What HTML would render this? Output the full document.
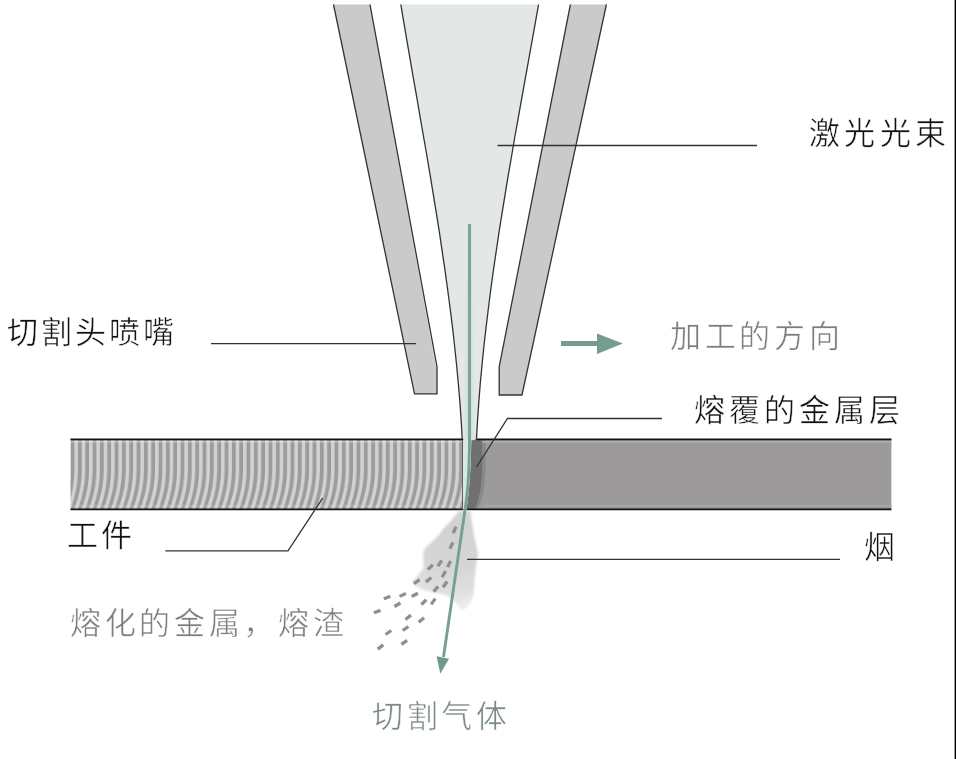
<!DOCTYPE html>
<html lang="zh-CN"><head><meta charset="utf-8">
<style>
html,body{margin:0;padding:0;background:#fff;}
body{width:956px;height:759px;position:relative;overflow:hidden;font-family:"Liberation Sans",sans-serif;}
svg{position:absolute;left:0;top:0;}
.t{position:absolute;white-space:nowrap;font-size:31px;line-height:34px;letter-spacing:3px;font-weight:300;color:#111;-webkit-text-stroke:0.5px #fff;will-change:transform;}
</style></head><body>
<svg width="956" height="759" viewBox="0 0 956 759">
<defs>
<pattern id="stripes" x="76.2" y="0" width="7.331" height="759" patternUnits="userSpaceOnUse">
<rect x="0" y="0" width="7.331" height="759" fill="#9c9c9c"/>
<path d="M-7.331 430 L-7.331 470 Q-7.331 489.5 -14.731 509 L-16.231 515" stroke="#d2d2d2" stroke-width="3.5" fill="none"/>
<path d="M0.000 430 L0.000 470 Q0.000 489.5 -7.400 509 L-8.900 515" stroke="#d2d2d2" stroke-width="3.5" fill="none"/>
<path d="M7.331 430 L7.331 470 Q7.331 489.5 -0.069 509 L-1.569 515" stroke="#d2d2d2" stroke-width="3.5" fill="none"/>
<path d="M14.662 430 L14.662 470 Q14.662 489.5 7.262 509 L5.762 515" stroke="#d2d2d2" stroke-width="3.5" fill="none"/>
</pattern>
<filter id="soft" x="-20%" y="-20%" width="140%" height="140%"><feGaussianBlur stdDeviation="0.9"/></filter>
<radialGradient id="smoke" gradientUnits="userSpaceOnUse" cx="452" cy="528" r="88">
<stop offset="0" stop-color="#d2d2d2"/>
<stop offset="0.45" stop-color="#d5d5d5"/>
<stop offset="0.7" stop-color="#dedede"/>
<stop offset="1" stop-color="#f4f4f4"/>
</radialGradient>
<linearGradient id="mint" gradientUnits="userSpaceOnUse" x1="0" y1="250" x2="0" y2="440">
<stop offset="0" stop-color="#d4e6dd" stop-opacity="0"/>
<stop offset="0.6" stop-color="#d4e6dd" stop-opacity="0.7"/>
<stop offset="1" stop-color="#d4e8de" stop-opacity="1"/>
</linearGradient>
<linearGradient id="smoke2" gradientUnits="userSpaceOnUse" x1="435" y1="575" x2="380" y2="650">
<stop offset="0" stop-color="#e9e9e9"/>
<stop offset="1" stop-color="#fdfdfd"/>
</linearGradient>
</defs>
<!-- beam -->
<path d="M400.8,4.5 L404.0,23.4 407.2,42.4 410.5,61.3 413.7,80.2 417.1,99.2 420.3,118.1 423.6,137.0 426.9,156.0 430.1,174.9 433.2,193.8 436.3,212.8 439.3,231.7 442.1,250.7 444.9,269.6 447.5,288.5 450.0,307.5 452.4,326.4 454.5,345.3 456.5,364.3 458.3,383.2 459.9,402.1 461.2,421.1 462.3,440.0 L476.4,440.0 L477.5,421.1 478.8,402.1 480.3,383.2 482.1,364.3 484.0,345.3 486.2,326.4 488.5,307.5 490.9,288.5 493.5,269.6 496.3,250.7 499.1,231.7 502.1,212.8 505.2,193.8 508.3,174.9 511.6,156.0 514.8,137.0 518.2,118.1 521.6,99.2 525.0,80.2 528.4,61.3 531.8,42.4 535.2,23.4 538.6,4.5 Z" fill="#e3e8e6"/>
<path d="M400.8,4.5 L404.0,23.4 407.2,42.4 410.5,61.3 413.7,80.2 417.1,99.2 420.3,118.1 423.6,137.0 426.9,156.0 430.1,174.9 433.2,193.8 436.3,212.8 439.3,231.7 442.1,250.7 444.9,269.6 447.5,288.5 450.0,307.5 452.4,326.4 454.5,345.3 456.5,364.3 458.3,383.2 459.9,402.1 461.2,421.1 462.3,440.0" fill="none" stroke="#333" stroke-width="1.3"/>
<path d="M476.4,440.0 L477.5,421.1 478.8,402.1 480.3,383.2 482.1,364.3 484.0,345.3 486.2,326.4 488.5,307.5 490.9,288.5 493.5,269.6 496.3,250.7 499.1,231.7 502.1,212.8 505.2,193.8 508.3,174.9 511.6,156.0 514.8,137.0 518.2,118.1 521.6,99.2 525.0,80.2 528.4,61.3 531.8,42.4 535.2,23.4 538.6,4.5" fill="none" stroke="#333" stroke-width="1.3"/>
<!-- nozzle walls -->
<path d="M333.5,4.5 L370,4.5 L435.8,366.5 L437,366.8 L437,393.8 L414.5,393.8 Z" fill="#cacaca"/>
<path d="M333.5,4.5 L414.5,393.8 L437,393.8 L437,366.8 L370,4.5" fill="none" stroke="#333" stroke-width="1.3" stroke-linejoin="miter"/>
<path d="M570.4,4.5 L606.4,4.5 L522,395 L499.2,395 L499.2,366.8 Z" fill="#cacaca"/>
<path d="M606.4,4.5 L522,395 L499.2,395 L499.2,366.8 L570.4,4.5" fill="none" stroke="#333" stroke-width="1.3"/>
<!-- workpiece -->
<rect x="70.5" y="439.3" width="392.3" height="70" fill="url(#stripes)"/>
<rect x="471" y="439.3" width="420.4" height="70" fill="#9c9a9a"/>
<path d="M471.2,441 L476.5,439.3 L482.3,439.3 L482.3,468 C482,488 479,502 474.5,509.4 L466.5,509.4 C468.8,495 470.8,470 471.2,441 Z" fill="#707070"/>
<path d="M482.3,439.3 L485.5,439.3 L485.5,468 C485,488 482,502 477.5,509.4 L474.5,509.4 C479,502 482,488 482.3,468 Z" fill="#888"/>
<line x1="70.5" y1="441.9" x2="462.8" y2="441.9" stroke="#e6e6e6" stroke-width="1.2" opacity="0.6"/>
<line x1="482" y1="441.9" x2="891.4" y2="441.9" stroke="#b8b8b8" stroke-width="1.2"/>
<line x1="70.5" y1="505.6" x2="462.8" y2="505.6" stroke="#e0e0e0" stroke-width="1.2" opacity="0.35"/>
<line x1="482" y1="505.6" x2="891.4" y2="505.6" stroke="#aaaaaa" stroke-width="1.2"/>
<line x1="70.5" y1="439.3" x2="462.8" y2="439.3" stroke="#111" stroke-width="1.8"/>
<line x1="476.5" y1="439.3" x2="891.4" y2="439.3" stroke="#111" stroke-width="1.8"/>
<line x1="70.5" y1="509.4" x2="891.4" y2="509.4" stroke="#111" stroke-width="1.8"/>
<line x1="462.8" y1="439.3" x2="462.8" y2="509.4" stroke="#222" stroke-width="1.2"/>
<!-- beam inside workpiece -->
<path d="M462.8,440 L471.4,440 C470.8,470 468.8,495 466.5,509.4 L462.8,509.4 Z" fill="#d5e9e0"/>
<!-- smoke -->
<path d="M458.7,511 L470.3,511 L472.1,523.5 L474.4,537.3 L477.2,549.3 L478.1,553.9 L476,565 L474.5,580 L474,594 L470,604 L462,611 L455,602 L446,595 L436,593 L426,591 L416,587 L412,582 L418,575 L423.5,568 L423.2,553 L424.6,548.4 L431,542.8 L438.5,535.4 L444,528 L450.4,521.6 Z" fill="url(#smoke)" filter="url(#soft)"/>
<g>
<rect x="-3.5" y="-1.65" width="7" height="3.3" fill="#8f8f8f" transform="translate(439.8 563.3) rotate(-55)"/>
<rect x="-3.5" y="-1.65" width="7" height="3.3" fill="#8f8f8f" transform="translate(449.1 564.0) rotate(-65)"/>
<rect x="-3.5" y="-1.65" width="7" height="3.3" fill="#8f8f8f" transform="translate(430.3 567.2) rotate(-45)"/>
<rect x="-3.5" y="-1.65" width="7" height="3.3" fill="#8f8f8f" transform="translate(443.8 574.2) rotate(-60)"/>
<rect x="-3.5" y="-1.65" width="7" height="3.3" fill="#8f8f8f" transform="translate(428.6 579.8) rotate(-40)"/>
<rect x="-3.5" y="-1.65" width="7" height="3.3" fill="#8f8f8f" transform="translate(416.8 581.7) rotate(-35)"/>
<rect x="-3.5" y="-1.65" width="7" height="3.3" fill="#8f8f8f" transform="translate(445.1 584.4) rotate(-55)"/>
<rect x="-3.5" y="-1.65" width="7" height="3.3" fill="#8f8f8f" transform="translate(435.9 589.0) rotate(-50)"/>
<rect x="-3.5" y="-1.65" width="7" height="3.3" fill="#8f8f8f" transform="translate(387.1 597.5) rotate(-22)"/>
<rect x="-3.5" y="-1.65" width="7" height="3.3" fill="#8f8f8f" transform="translate(402.7 594.9) rotate(-25)"/>
<rect x="-3.5" y="-1.65" width="7" height="3.3" fill="#8f8f8f" transform="translate(414.8 594.9) rotate(-28)"/>
<rect x="-3.5" y="-1.65" width="7" height="3.3" fill="#8f8f8f" transform="translate(397.4 604.8) rotate(-30)"/>
<rect x="-3.5" y="-1.65" width="7" height="3.3" fill="#8f8f8f" transform="translate(423.8 602.2) rotate(-45)"/>
<rect x="-3.5" y="-1.65" width="7" height="3.3" fill="#8f8f8f" transform="translate(433.2 601.5) rotate(-55)"/>
<rect x="-3.5" y="-1.65" width="7" height="3.3" fill="#8f8f8f" transform="translate(377.2 611.6) rotate(-20)"/>
<rect x="-3.5" y="-1.65" width="7" height="3.3" fill="#8f8f8f" transform="translate(408.2 617.3) rotate(-38)"/>
<rect x="-3.5" y="-1.65" width="7" height="3.3" fill="#8f8f8f" transform="translate(421.4 620.0) rotate(-40)"/>
<rect x="-3.5" y="-1.65" width="7" height="3.3" fill="#8f8f8f" transform="translate(405.6 628.5) rotate(-35)"/>
<rect x="-3.5" y="-1.65" width="7" height="3.3" fill="#8f8f8f" transform="translate(388.4 632.5) rotate(-35)"/>
<rect x="-3.5" y="-1.65" width="7" height="3.3" fill="#8f8f8f" transform="translate(404.3 642.3) rotate(-35)"/>
<rect x="-3.5" y="-1.65" width="7" height="3.3" fill="#8f8f8f" transform="translate(380.5 647.0) rotate(-38)"/>
<rect x="-3.5" y="-1.65" width="7" height="3.3" fill="#8f8f8f" transform="translate(454.6 529.9) rotate(-67)"/>
<rect x="-3.5" y="-1.65" width="7" height="3.3" fill="#8f8f8f" transform="translate(451.4 545.6) rotate(-65)"/>
</g>
<!-- green center line and gas arrow -->
<path d="M469.5,250 L469.5,440" fill="none" stroke="url(#mint)" stroke-width="10"/>
<path d="M469.5,224 L469.5,438" fill="none" stroke="#80a596" stroke-width="3.2"/>
<path d="M469.5,436 C469.5,470 467.5,495 465,510 L443.5,657" fill="none" stroke="#76a08f" stroke-width="2.9"/>
<path d="M440.3,673.7 L436.6,656.3 L449,658.7 Z" fill="#6f9a88"/>
<!-- direction arrow -->
<rect x="561" y="341" width="37" height="5" fill="#759c8d"/>
<path d="M597,333.5 L622.8,343.6 L597,354 Z" fill="#759c8d"/>
<!-- callout lines -->
<g fill="none" stroke="#333" stroke-width="1.3">
<line x1="497.4" y1="145.5" x2="757" y2="145.5"/>
<line x1="211" y1="343.6" x2="416" y2="343.6"/>
<polyline points="662,418.5 507.5,418.5 476.5,467"/>
<polyline points="165.3,550.8 288,550.8 322.7,498.1"/>
<line x1="467" y1="559.4" x2="840" y2="559.4"/>
</g>
<!-- right border -->
<rect x="954.6" y="0" width="1.4" height="759" fill="#000"/>
</svg>
<div class="t" style="left:808.5px;top:117px;letter-spacing:4.4px;">激光光束</div>
<div class="t" style="left:6.5px;top:315.5px;">切割头喷嘴</div>
<div class="t" style="left:669.6px;top:320px;letter-spacing:3.7px;color:#7a7f7d;">加工的方向</div>
<div class="t" style="left:694px;top:393.5px;letter-spacing:4px;">熔覆的金属层</div>
<div class="t" style="left:67.3px;top:519px;">工件</div>
<div class="t" style="left:864px;top:531px;">烟</div>
<div class="t" style="left:69.6px;top:607px;letter-spacing:3.7px;color:#7e7e7e;">熔化的金属，熔渣</div>
<div class="t" style="left:372.4px;top:699.5px;letter-spacing:3.5px;color:#7b8a84;">切割气体</div>
</body></html>
